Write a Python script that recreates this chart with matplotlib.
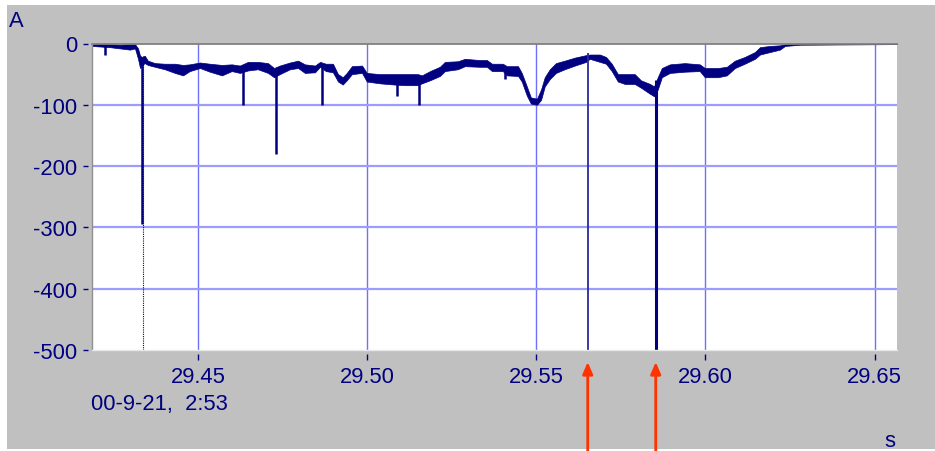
import matplotlib
matplotlib.use('Agg')
import matplotlib.pyplot as plt
from matplotlib.lines import Line2D
from matplotlib.patches import Rectangle

# current trace (A), time in seconds
# the trace is a thick noisy band, so keep its upper and lower edge
band_t = [29.4187, 29.4240, 29.4270, 29.4299, 29.4314, 29.4323, 29.4329, 29.4335,
          29.4343, 29.4352, 29.4373, 29.4402, 29.4432, 29.4456, 29.4476, 29.4506,
          29.4535, 29.4571, 29.4600, 29.4624, 29.4648, 29.4677, 29.4707, 29.4725,
          29.4742, 29.4772, 29.4796, 29.4816, 29.4846, 29.4861, 29.4878, 29.4899,
          29.4914, 29.4928, 29.4940, 29.4955, 29.4985, 29.4999, 29.5038, 29.5082,
          29.5112, 29.5150, 29.5162, 29.5186, 29.5215, 29.5230, 29.5268, 29.5289,
          29.5333, 29.5354, 29.5369, 29.5401, 29.5413, 29.5446, 29.5457, 29.5472,
          29.5484, 29.5502, 29.5514, 29.5525, 29.5540, 29.5558, 29.5584, 29.5614,
          29.5647, 29.5658, 29.5688, 29.5706, 29.5723, 29.5741, 29.5762, 29.5791,
          29.5809, 29.5836, 29.5848, 29.5859, 29.5871, 29.5895, 29.5939, 29.5983,
          29.5998, 29.6037, 29.6063, 29.6087, 29.6116, 29.6146, 29.6161, 29.6190,
          29.6220, 29.6235, 29.6279, 29.6566]
band_hi = [0, -1, -2, -1, -1, -8, -20, -22,
           -20, -28, -32, -33, -33, -35, -34, -31,
           -33, -35, -34, -36, -30, -30, -32, -40,
           -36, -31, -28, -34, -36, -30, -33, -33,
           -50, -55, -48, -37, -36, -48, -50, -50,
           -50, -50, -52, -45, -38, -30, -29, -25,
           -27, -27, -33, -33, -37, -37, -48, -70,
           -88, -90, -75, -55, -42, -32, -28, -23,
           -19, -18, -18, -22, -33, -50, -50, -50,
           -60, -66, -70, -55, -40, -34, -32, -34,
           -40, -40, -38, -28, -22, -14, -6, -4,
           -3, -1, 0, 0]
band_lo = [-4, -6, -8, -10, -8, -25, -40, -35,
           -32, -35, -38, -42, -48, -52, -45, -40,
           -46, -52, -45, -48, -44, -42, -48, -55,
           -50, -42, -40, -48, -47, -38, -45, -47,
           -62, -67, -60, -50, -48, -62, -65, -67,
           -68, -68, -65, -60, -53, -45, -42, -37,
           -38, -38, -45, -45, -52, -53, -62, -85,
           -98, -100, -92, -70, -58, -48, -42, -36,
           -30, -25, -30, -33, -45, -62, -66, -66,
           -72, -82, -86, -75, -55, -48, -46, -45,
           -55, -55, -52, -40, -33, -25, -18, -14,
           -10, -4, -2, -1]

# short negative spikes on top of the band
spike_t = [29.4225, 29.4336, 29.4633, 29.4731, 29.4866, 29.5088, 29.5153, 29.5407]
spike_top = [-3, -30, -40, -45, -38, -60, -60, -45]
spike_bot = [-19, -295, -100, -180, -100, -85, -100, -58]

# full-scale events marked with the red arrows
event_t = [29.5652, 29.5853]
event_top = [-15, -60]
event_bot = [-500, -500]

# dotted trigger line
trigger_t = 29.4339

xticks = [29.45, 29.50, 29.55, 29.60, 29.65]
yticks = [0, -100, -200, -300, -400, -500]
stamp = "00-9-21,  2:53"

navy = '#000080'
W, H = 935, 452

plt.rcParams['font.family'] = ['Liberation Sans', 'DejaVu Sans']
plt.rcParams['axes.unicode_minus'] = False

fig = plt.figure(figsize=(W / 100, H / 100), dpi=100)
fig.patch.set_facecolor('white')
fig.patches.append(Rectangle((7 / W, 2 / H), 1 - 7 / W, (446 - 2) / H,
                             transform=fig.transFigure, facecolor='#c0c0c0',
                             edgecolor='none', zorder=-10))

ax = fig.add_axes([92 / W, (H - 351) / H, (897 - 92) / W, (351 - 44.5) / H])
ax.set_facecolor('white')
ax.set_xlim(29.4187, 29.6566)
ax.set_ylim(-500, 0)

for s in ax.spines.values():
    s.set_visible(False)
ax.spines['left'].set_position(('outward', 3.2))
ax.spines['bottom'].set_position(('outward', 2.9))

ax.set_xticks(xticks)
ax.set_xticklabels(['%.2f' % v for v in xticks])
ax.set_yticks(yticks)
ax.set_yticklabels([str(v) for v in yticks])
ax.tick_params(axis='both', colors=navy, labelcolor=navy, labelsize=15.8,
               direction='out', width=1)
ax.tick_params(axis='y', length=3.6, pad=3.6)
ax.tick_params(axis='x', length=4.3, pad=4.0)

# grid
for v in xticks:
    ax.axvline(v, color='#7070ff', lw=1.0, zorder=1)
for v in yticks[1:-1]:
    ax.axhline(v, color='#9c9cff', lw=1.6, zorder=1)

# frame: dark on top/left, pale bottom
ax.add_line(Line2D([0, 1], [1, 1], transform=ax.transAxes, color='#808080',
                   lw=1.3, clip_on=False, zorder=5))
ax.add_line(Line2D([0, 0], [0, 1], transform=ax.transAxes, color='#909090',
                   lw=1.0, clip_on=False, zorder=5))
ax.add_line(Line2D([0, 1], [0, 0], transform=ax.transAxes, color='#e8e8e8',
                   lw=1.0, clip_on=False, zorder=5))

# trace
ax.fill_between(band_t, band_lo, band_hi, facecolor=navy, edgecolor=navy,
                lw=0.5, zorder=3)
ax.vlines(spike_t, spike_bot, spike_top, color=navy, lw=1.8, zorder=3)
ax.vlines(trigger_t, -500, -20, color=navy, lw=0.8, linestyles=(0, (1, 1)), zorder=3)
ax.vlines(event_t[0], event_bot[0], event_top[0], color='#2a2a9a', lw=1.3, zorder=3)
ax.vlines(event_t[1], event_bot[1], event_top[1], color=navy, lw=2.2, zorder=3)

# red arrows under the axis
for t in event_t:
    ax.annotate('', xy=(t, (H - 363) / H), xytext=(t, 0.0),
                xycoords=('data', 'figure fraction'),
                textcoords=('data', 'figure fraction'),
                arrowprops=dict(arrowstyle='-|>,head_length=0.7,head_width=0.3',
                                color='#ff3300', lw=2.0, shrinkA=0, shrinkB=0))

fig.text(9 / W, (H - 27) / H, 'A', color=navy, fontsize=15.8, va='baseline')
fig.text(91 / W, (H - 410) / H, stamp, color=navy, fontsize=15.8, va='baseline')
fig.text(890 / W, (H - 447) / H, 's', color=navy, fontsize=15.8,
         va='baseline', ha='center')

fig.savefig('out.png', dpi=100, facecolor=fig.get_facecolor())
